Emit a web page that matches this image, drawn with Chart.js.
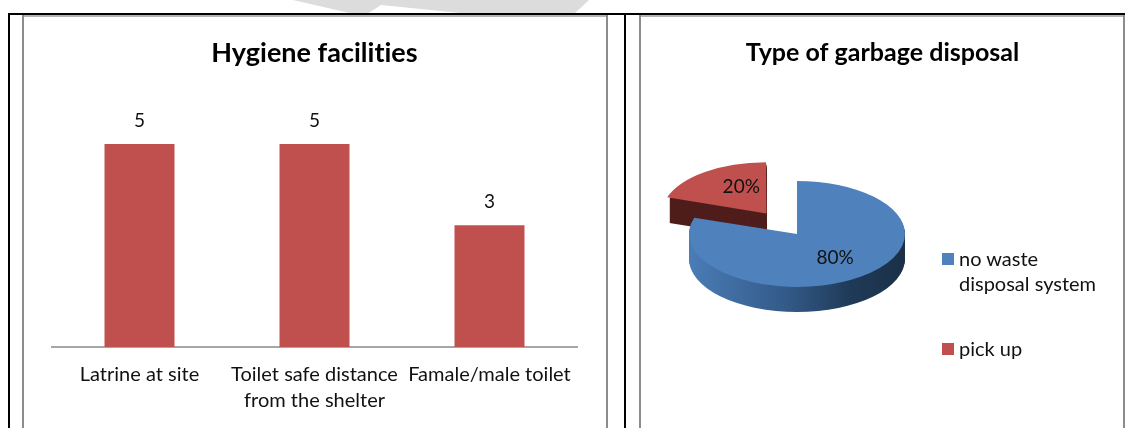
<!DOCTYPE html>
<html>
<head>
<meta charset="utf-8">
<script src="https://cdn.jsdelivr.net/npm/chart.js@4"></script>
<style>
  html, body { margin: 0; padding: 0; background: #fff; overflow: hidden; }
  body { width: 1125px; height: 428px; position: relative; font-family: Lato, sans-serif; }
  .line { position: absolute; }
  .black { background: #000; }
  .grey { background: #8c8c8c; }
  .lite { background: #b4b4b4; }
  .box { position: absolute; top: 0; height: 428px; }
  #legend { position: absolute; left: 942px; top: 0; font-size: 20px; line-height: 25px; color: #111; font-variant-ligatures: none; }
  .item { position: absolute; white-space: nowrap; }
  .swatch { position: absolute; left: 0; width: 12px; height: 12px; }
  .item span { position: absolute; left: 17px; }
</style>
</head>
<body>
<svg style="position:absolute;left:0;top:0" width="1125" height="14">
  <polygon points="293,0 354,14 367,14 381,5 470,14 574,14 589,0" fill="#dcdcdc"/>
</svg>

<div class="line black" style="left:8px;top:13px;width:1117px;height:2px"></div>
<div class="line black" style="left:8px;top:13px;width:2px;height:415px"></div>
<div class="line black" style="left:624px;top:13px;width:2px;height:415px"></div>
<div class="line lite" style="left:22px;top:15px;width:586px;height:2px"></div>
<div class="line lite" style="left:639px;top:15px;width:486px;height:2px"></div>
<div class="line grey" style="left:22px;top:15px;width:2px;height:413px"></div>
<div class="line grey" style="left:606px;top:15px;width:2px;height:413px"></div>
<div class="line grey" style="left:639px;top:15px;width:2px;height:413px"></div>
<div class="line grey" style="left:1123px;top:15px;width:2px;height:413px"></div>

<div class="box" style="left:23px;width:584px"><canvas id="bars"></canvas></div>
<div class="box" style="left:640px;width:485px"><canvas id="pie"></canvas></div>
<div id="legend"></div>

<script>
const barTitle = "Hygiene facilities";
const barLabels = ["Latrine at site", ["Toilet safe distance", "from the shelter"], "Famale/male toilet"];
const barValues = [5, 5, 3];

const pieTitle = "Type of garbage disposal";
const pieLabels = ["no waste disposal system", "pick up"];
const pieValues = [80, 20];

const RED = "#c0504d";
const BLUE = "#4f81bd";
const FONT = "Lato, sans-serif";

// Lato ligatures ("ti") look wrong here, any letter spacing turns them off
const noLigatures = {
  id: "noLigatures",
  beforeDraw(chart) { chart.ctx.letterSpacing = "0.01px"; }
};

// value labels above the bars
const barValuePlugin = {
  id: "barValues",
  afterDatasetsDraw(chart) {
    const ctx = chart.ctx;
    ctx.save();
    ctx.font = "19px " + FONT;
    ctx.fillStyle = "#111";
    ctx.textAlign = "center";
    ctx.textBaseline = "middle";
    chart.getDatasetMeta(0).data.forEach((bar, i) => {
      ctx.fillText(barValues[i], bar.x, bar.y - 23);
    });
    ctx.restore();
  }
};

new Chart(document.getElementById("bars"), {
  type: "bar",
  data: {
    labels: barLabels,
    datasets: [{ data: barValues, backgroundColor: RED, barPercentage: 0.4, categoryPercentage: 1 }]
  },
  options: {
    responsive: true,
    maintainAspectRatio: false,
    animation: false,
    events: [],
    layout: { padding: { left: 29, right: 30, top: 0, bottom: 0 } },
    plugins: {
      legend: { display: false },
      tooltip: { enabled: false },
      title: {
        display: true,
        text: barTitle,
        color: "#000",
        font: { family: FONT, size: 27, weight: "bold", lineHeight: 1.2 },
        padding: { top: 37, bottom: 34 }
      }
    },
    scales: {
      x: {
        grid: { display: false, drawTicks: false },
        border: { color: "#a6a6a6", width: 2 },
        ticks: {
          color: "#111",
          maxRotation: 0,
          autoSkip: false,
          padding: 15,
          font: { family: FONT, size: 20, lineHeight: 1.3 }
        },
        afterFit(scale) { scale.height = 81; }
      },
      y: { display: false, min: 0, max: 6 }
    }
  },
  plugins: [noLigatures, barValuePlugin]
});

// flattened pie with a side wall, the slices themselves still come from the doughnut controller
const FLAT = 0.49;
const DEPTH = 25;
const PICKUP_RADIUS = 102;
const pieLabelSpots = [0.6, 0.42];
const pieLabelLift = [2, 10];

function wedge(ctx, arc) {
  const { x, y, startAngle, endAngle, outerRadius } = arc.getProps(["x", "y", "startAngle", "endAngle", "outerRadius"]);
  const half = (startAngle + endAngle) / 2;
  const off = arc.options.offset / 4;
  const cx = x + Math.cos(half) * off;
  const cy = y + Math.sin(half) * off;
  ctx.beginPath();
  ctx.moveTo(cx, cy);
  ctx.arc(cx, cy, outerRadius, startAngle, endAngle);
  ctx.closePath();
}

const flatPiePlugin = {
  id: "flatPie",
  // title stays centred on the whole chart box, the padding is only there to push the pie left
  afterLayout(chart) { chart.titleBlock.right = chart.width; },
  // the slice pulled away sits further back so it is a bit smaller
  afterDatasetUpdate(chart) { chart.getDatasetMeta(0).data[1].outerRadius = PICKUP_RADIUS; },
  beforeDatasetDraw(chart) {
    const ctx = chart.ctx;
    const arcs = chart.getDatasetMeta(0).data;
    const { x, y, outerRadius } = arcs[0].getProps(["x", "y", "outerRadius"]);
    ctx.save();
    ctx.translate(0, y);
    ctx.scale(1, FLAT);
    ctx.translate(0, -y);

    const side = ctx.createLinearGradient(x - outerRadius, 0, x + outerRadius, 0);
    side.addColorStop(0, "#4a7cb6");
    side.addColorStop(0.45, "#335a88");
    side.addColorStop(0.75, "#1f3a58");
    side.addColorStop(1, "#1b3047");

    // pick up wall goes first, the blue slice has to cover it
    [[arcs[1], "#4f1d1b"], [arcs[0], side]].forEach(([arc, fill]) => {
      ctx.fillStyle = fill;
      for (let d = DEPTH; d > 0; d--) {
        ctx.save();
        ctx.translate(0, d / FLAT);
        wedge(ctx, arc);
        ctx.fill();
        ctx.restore();
      }
    });
  },
  afterDatasetDraw(chart) {
    const ctx = chart.ctx;
    ctx.restore();
    const arcs = chart.getDatasetMeta(0).data;
    ctx.save();
    ctx.font = "19px " + FONT;
    ctx.fillStyle = "#111";
    ctx.textAlign = "center";
    ctx.textBaseline = "middle";
    arcs.forEach((arc, i) => {
      const { x, y, startAngle, endAngle, outerRadius } = arc.getProps(["x", "y", "startAngle", "endAngle", "outerRadius"]);
      const half = (startAngle + endAngle) / 2;
      const r = arc.options.offset / 4 + outerRadius * pieLabelSpots[i];
      ctx.fillText(pieValues[i] + "%", x + Math.cos(half) * r, y + Math.sin(half) * r * FLAT - pieLabelLift[i]);
    });
    ctx.restore();
  }
};

new Chart(document.getElementById("pie"), {
  type: "pie",
  data: {
    labels: pieLabels,
    datasets: [{ data: pieValues, backgroundColor: [BLUE, RED], borderWidth: 0, offset: [0, 208] }]
  },
  options: {
    responsive: true,
    maintainAspectRatio: false,
    animation: false,
    events: [],
    radius: 108,
    layout: { padding: { left: 0, right: 171, top: 0, bottom: 28 } },
    plugins: {
      legend: { display: false },
      tooltip: { enabled: false },
      title: {
        display: true,
        text: pieTitle,
        color: "#000",
        font: { family: FONT, size: 25, weight: "bold", lineHeight: 1.2 },
        padding: { top: 38, bottom: 0 }
      }
    }
  },
  plugins: [noLigatures, flatPiePlugin]
});

// legend placed by hand since the label wraps onto two lines
const legend = document.getElementById("legend");
const legendLines = [["no waste", "disposal system"], ["pick up"]];
const legendTops = [246, 336];
legendLines.forEach((lines, i) => {
  const item = document.createElement("div");
  item.className = "item";
  item.style.top = legendTops[i] + "px";
  item.innerHTML = '<div class="swatch" style="top:7px;background:' + [BLUE, RED][i] + '"></div>' +
    '<span>' + lines.join("<br>") + '</span>';
  legend.appendChild(item);
});
</script>
</body>
</html>
